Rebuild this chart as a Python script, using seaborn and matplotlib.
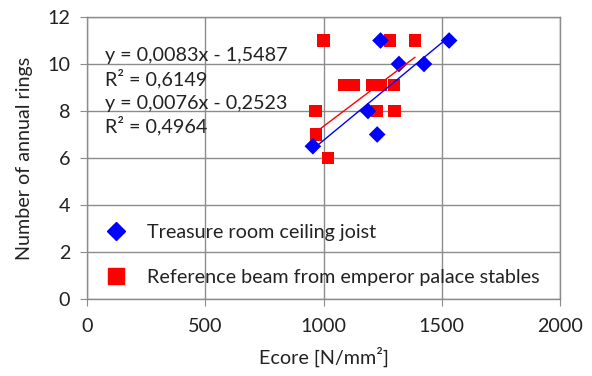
import numpy as np
import pandas as pd
import seaborn as sns
import matplotlib
matplotlib.use("Agg")
import matplotlib.pyplot as plt
from matplotlib.lines import Line2D

# Data
treasure_x = [955, 1188, 1227, 1241, 1319, 1425, 1531]
treasure_y = [6.5, 8, 7, 11, 10, 10, 11]
reference_x = [966, 969, 1000, 1018, 1086, 1128, 1206, 1227, 1241, 1280, 1298, 1301, 1387]
reference_y = [8, 7, 11, 6, 9.1, 9.1, 9.1, 8, 9.1, 11, 9.1, 8, 11]
series_names = ["Treasure room ceiling joist", "Reference beam from emperor palace stables"]
fit_treasure = (0.0083, -1.5487)
fit_reference = (0.0076, -0.2523)
eq_labels = ["y = 0,0083x - 1,5487", "R\u00b2 = 0,6149", "y = 0,0076x - 0,2523", "R\u00b2 = 0,4964"]
x_ticks = [0, 500, 1000, 1500, 2000]
y_ticks = [0, 2, 4, 6, 8, 10, 12]

df = pd.DataFrame({
    "x": treasure_x + reference_x,
    "y": treasure_y + reference_y,
    "series": [series_names[0]] * len(treasure_x) + [series_names[1]] * len(reference_x),
})

sns.set_style("white")
plt.rcParams["font.family"] = ["Lato", "DejaVu Sans"]

fig = plt.figure(figsize=(5.92, 3.76), dpi=100)
ax = fig.add_axes([87 / 592, 1 - 299 / 376, (560 - 87) / 592, (299 - 17) / 376])

grid_c = "#8c8c8c"
txt_c = "#222222"
fs = 14.2
ax.set_xlim(0, 2000)
ax.set_ylim(0, 12)
ax.set_xticks(x_ticks)
ax.set_yticks(y_ticks)
ax.grid(True, color=grid_c, linewidth=1.0)
ax.set_axisbelow(True)
for s in ax.spines.values():
    s.set_color(grid_c)
    s.set_linewidth(1.0)
ax.tick_params(axis="both", which="both", direction="out", length=5, color=grid_c,
               labelsize=fs, labelcolor=txt_c, bottom=True, left=True)
ax.tick_params(axis="x", pad=9)
ax.tick_params(axis="y", pad=7)

d1 = df[df.series == series_names[0]]
d2 = df[df.series == series_names[1]]
sns.scatterplot(data=d2, x="x", y="y", ax=ax, marker="s", s=80, color="#ff0000",
                edgecolor="none", linewidth=0, zorder=3)
sns.scatterplot(data=d1, x="x", y="y", ax=ax, marker="D", s=72, color="#0000ff",
                edgecolor="none", linewidth=0, zorder=4)

# trend lines
for xs, (a, b), c in [(treasure_x, fit_treasure, "#0000ff"), (reference_x, fit_reference, "#ff0000")]:
    xr = np.array([min(xs), max(xs)])
    ax.plot(xr, a * xr + b, color=c, linewidth=1.0, zorder=5)

# equations
eq_y = [10.35, 9.4, 8.33, 7.4]
for t, yy in zip(eq_labels, eq_y):
    ax.text(75, yy, t, fontsize=fs, color=txt_c, va="center", ha="left")

handles = [
    Line2D([], [], marker="D", linestyle="none", color="#0000ff", markersize=9.5),
    Line2D([], [], marker="s", linestyle="none", color="#ff0000", markersize=11),
]
leg = ax.legend(handles, series_names, loc="lower left", bbox_to_anchor=(0.002, -0.018),
                frameon=False, fontsize=fs, labelspacing=1.45, handlelength=1.0,
                handletextpad=1.07, borderaxespad=0.5, labelcolor=txt_c)

ax.set_xlabel("Ecore [N/mm\u00b2]", fontsize=fs, color=txt_c, labelpad=8)
ax.set_ylabel("Number of annual rings", fontsize=fs, color=txt_c, labelpad=10)

fig.savefig("out.png", dpi=100)
